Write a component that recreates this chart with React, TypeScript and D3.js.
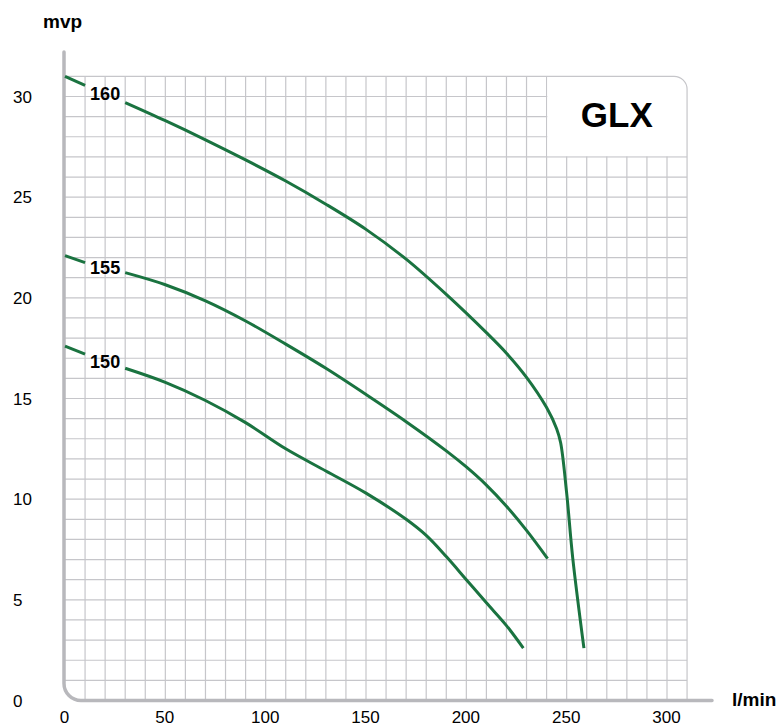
import React, { useEffect, useRef } from "react";
import * as d3 from "d3";

// Curve data (flow l/min, head mvp)
const curve160: [number, number][] = [
  [0, 31.0], [10, 30.55], [30, 29.7], [50, 28.8], [70, 27.85], [90, 26.85],
  [110, 25.8], [130, 24.65], [150, 23.4], [170, 21.92], [190, 20.17],
  [210, 18.27], [220, 17.25], [230, 16.05], [240, 14.55], [245, 13.5],
  [247, 12.8], [250, 10.3], [253, 7.1], [258.6, 2.6],
];
const curve155: [number, number][] = [
  [0, 22.1], [10, 21.75], [30, 21.25], [50, 20.65], [70, 19.85], [90, 18.85],
  [110, 17.7], [130, 16.5], [150, 15.2], [170, 13.85], [190, 12.4],
  [200, 11.6], [210, 10.7], [220, 9.65], [230, 8.45], [240.5, 7.05],
];
const curve150: [number, number][] = [
  [0, 17.6], [10, 17.2], [30, 16.5], [50, 15.8], [70, 14.9], [90, 13.8],
  [110, 12.5], [130, 11.4], [150, 10.3], [170, 9.0], [180, 8.2],
  [190, 7.15], [200, 6.0], [210, 4.85], [220, 3.72], [228.4, 2.6],
];
const curveNames = ["160", "155", "150"];
const curves = [curve160, curve155, curve150];

const xTicks = [0, 50, 100, 150, 200, 250, 300];
const yTicks = [0, 5, 10, 15, 20, 25, 30];

const FONT = "'Liberation Sans', Arial, sans-serif";
const GREEN = "#1a7340";
const GRID = "#c6c6ca";
const AXIS = "#b8b8bc";

const App = () => {
  const svgRef = useRef<SVGSVGElement>(null);

  useEffect(() => {
    const width = 781;
    const height = 726;

    d3.select(svgRef.current).selectAll("*").remove();

    const svg = d3.select(svgRef.current)
      .attr("width", width)
      .attr("height", height);

    const x = d3.scaleLinear().domain([0, 300]).range([65, 667]);
    const y = d3.scaleLinear().domain([0, 30]).range([700.5, 96.5]);

    const xMax = 310;
    const yMax = 31;

    // grid
    const grid = svg.append("g");
    grid.selectAll("line.v")
      .data(d3.range(10, xMax, 10))
      .enter()
      .append("line")
      .attr("x1", (d) => x(d)).attr("x2", (d) => x(d))
      .attr("y1", y(0)).attr("y2", y(yMax))
      .attr("stroke", GRID).attr("stroke-width", 1.2);
    grid.selectAll("line.h")
      .data(d3.range(1, yMax, 1))
      .enter()
      .append("line")
      .attr("x1", x(0)).attr("x2", x(xMax))
      .attr("y1", (d) => y(d)).attr("y2", (d) => y(d))
      .attr("stroke", GRID).attr("stroke-width", 1.2);

    // title box (blank grid area)
    svg.append("rect")
      .attr("x", x(240) + 0.7)
      .attr("y", y(yMax) - 3)
      .attr("width", x(xMax) - x(240) + 3)
      .attr("height", y(27) - y(yMax) + 2.3)
      .attr("fill", "#fff");

    // top/right frame with rounded corner
    const r = 13;
    svg.append("path")
      .attr("d", `M${x(0)},${y(yMax)} L${x(xMax) - r},${y(yMax)} A${r},${r} 0 0 1 ${x(xMax)},${y(yMax) + r} L${x(xMax)},${y(0)}`)
      .attr("fill", "none").attr("stroke", GRID).attr("stroke-width", 1.2);

    svg.append("text")
      .attr("x", x(275)).attr("y", y(28.5))
      .attr("text-anchor", "middle")
      .attr("font-family", FONT).attr("font-weight", "bold")
      .attr("font-size", 35)
      .text("GLX");

    // axes (thick gray, rounded corner bottom-left)
    const ar = 17;
    const x0 = x(0) - 1;
    const y0 = y(0);
    svg.append("path")
      .attr("d", `M${x0},52 L${x0},${y0 - ar} A${ar},${ar} 0 0 0 ${x0 + ar},${y0} L712,${y0}`)
      .attr("fill", "none").attr("stroke", AXIS).attr("stroke-width", 3.5)
      .attr("stroke-linecap", "round");

    // curves, split where the label sits
    const line = d3.line<[number, number]>()
      .x((d) => x(d[0]))
      .y((d) => y(d[1]))
      .curve(d3.curveCatmullRom.alpha(0.5));

    curves.forEach((c, i) => {
      const head = c.filter((d) => d[0] <= 10);
      const tail = c.filter((d) => d[0] >= 30);
      [head, tail].forEach((part) => {
        svg.append("path")
          .datum(part)
          .attr("d", line)
          .attr("fill", "none")
          .attr("stroke", GREEN)
          .attr("stroke-width", 3);
      });

      const a = c[1], b = c[2];
      const ly = a[1] + (b[1] - a[1]) * (20 - a[0]) / (b[0] - a[0]);
      svg.append("text")
        .attr("x", x(20)).attr("y", y(ly))
        .attr("dy", "0.36em")
        .attr("text-anchor", "middle")
        .attr("font-family", FONT).attr("font-weight", "bold")
        .attr("font-size", 18)
        .text(curveNames[i]);
    });

    // tick labels
    svg.append("g").selectAll("text")
      .data(yTicks)
      .enter()
      .append("text")
      .attr("x", 13).attr("y", (d) => y(d))
      .attr("dy", "0.36em")
      .attr("font-family", FONT).attr("font-size", 17)
      .text((d) => d);

    svg.append("g").selectAll("text")
      .data(xTicks)
      .enter()
      .append("text")
      .attr("x", (d) => x(d) - 0.5).attr("y", 723)
      .attr("text-anchor", "middle")
      .attr("font-family", FONT).attr("font-size", 17)
      .text((d) => d);

    // axis titles
    svg.append("text")
      .attr("x", 43).attr("y", 28)
      .attr("font-family", FONT).attr("font-weight", "bold").attr("font-size", 19)
      .text("mvp");
    svg.append("text")
      .attr("x", 732).attr("y", 706)
      .attr("font-family", FONT).attr("font-weight", "bold").attr("font-size", 19)
      .text("l/min");
  }, []);

  return (
    <svg ref={svgRef} style={{ position: "absolute", left: 0, top: 0 }}></svg>
  );
};

export default App;
